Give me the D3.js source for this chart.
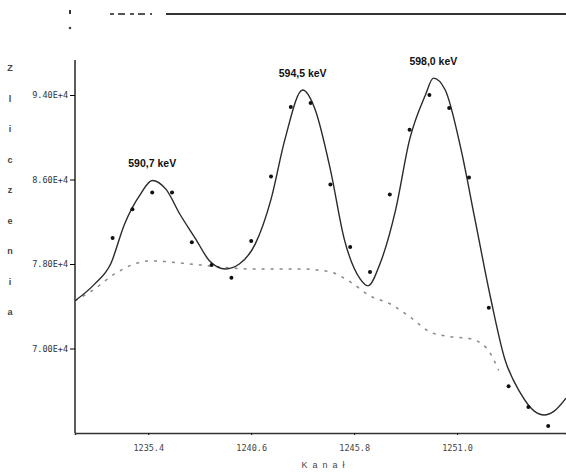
<!DOCTYPE html>
<html>
<head>
<meta charset="utf-8">
<script src="https://cdn.jsdelivr.net/npm/d3@7"></script>
<style>
  body { margin: 0; background: #fff; }
  svg { display: block; font-family: "Liberation Sans", Arial, sans-serif; }
</style>
</head>
<body>
<div id="canvas"></div>
<script>
// measured points (channel, counts)
const dataChannels = [1233.6, 1234.6, 1235.6, 1236.6, 1237.6, 1238.6, 1239.6, 1240.6, 1241.6, 1242.6, 1243.6, 1244.6,
  1245.6, 1246.6, 1247.6, 1248.6, 1249.6, 1250.6, 1251.6, 1252.6, 1253.6, 1254.6, 1255.6]
const dataCounts = [80450, 83180, 84780, 84780, 80070, 77910, 76690, 80170, 86280, 92870, 93250, 85530,
  79600, 77250, 84590, 90700, 94000, 92780, 86190, 73860, 66430, 64450, 62670]

// fitted curve
const fitChannels = [1231.7, 1232.7, 1233.5, 1234.2, 1235.0, 1235.6, 1236.3, 1237.0, 1237.8, 1238.5, 1239.3, 1240.0,
  1240.8, 1241.6, 1242.3, 1243.2, 1243.8, 1244.6, 1245.3, 1246.1, 1246.5, 1247.1, 1247.9, 1248.6, 1249.4, 1249.8,
  1250.4, 1251.2, 1251.9, 1252.7, 1253.4, 1254.2, 1254.9, 1255.4, 1255.9, 1256.5]
const fitCounts = [74520, 76120, 78000, 81770, 84590, 85910, 85060, 82710, 80360, 78290, 77530, 78000,
  79880, 84120, 89770, 94470, 92780, 86940, 80360, 76590, 75930, 78000, 83180, 89770, 94000, 95600,
  94470, 88820, 82240, 74710, 69060, 65770, 64070, 63700, 64070, 65300]

// background
const bgChannels = [1231.7, 1232.7, 1233.7, 1235.5, 1238.0, 1240.6, 1243.1, 1244.6, 1245.6, 1246.6, 1247.6,
  1248.6, 1249.6, 1250.6, 1251.6, 1252.5, 1253.1]
const bgCounts = [74520, 75650, 77060, 78290, 77910, 77530, 77530, 77250, 76310, 74990, 74240,
  73020, 71600, 71130, 70950, 70000, 67930]

// peak labels
const peakLabels = ["590,7 keV", "594,5 keV", "598,0 keV"]
const peakChannels = [1235.6, 1243.2, 1249.8]
const peakCounts = [85910, 94470, 95600]

// ticks
const xTickValues = [1235.4, 1240.6, 1245.8, 1251.0]
const xTickLabels = ["1235.4", "1240.6", "1245.8", "1251.0"]
const yTickValues = [94000, 86000, 78000, 70000]
const yTickLabels = ["9.40E+4", "8.60E+4", "7.80E+4", "7.00E+4"]

const xTitle = "Kanał"
const yTitle = "Zliczenia"

window.onload = function () { setup() }

function setup() {
  const width = 566, height = 474
  const left = 75, right = 566, top = 60, bottom = 433

  const svg = d3.select("#canvas")
    .append("svg")
    .attr("width", width)
    .attr("height", height)

  const x = d3.scaleLinear().domain([1231.7, 1256.5]).range([left, right])
  const y = d3.scaleLinear().domain([62000, 94000]).range([bottom, 95])

  // legend remnant at top
  svg.append("rect").attr("x", 69).attr("y", 10).attr("width", 2).attr("height", 4).attr("fill", "#333")
  svg.append("circle").attr("cx", 70).attr("cy", 28).attr("r", 1.3).attr("fill", "#444")
  svg.append("line")
    .attr("x1", 110).attr("x2", 152).attr("y1", 14).attr("y2", 14)
    .attr("stroke", "#555").attr("stroke-width", 2).attr("stroke-dasharray", "4,4,7,5")
  svg.append("line")
    .attr("x1", 166).attr("x2", 566).attr("y1", 14).attr("y2", 14)
    .attr("stroke", "#333").attr("stroke-width", 2)

  // axes
  const xAxis = d3.axisBottom(x)
    .tickValues(xTickValues)
    .tickFormat((d, i) => xTickLabels[i])
    .tickSize(2)
    .tickPadding(10)
  svg.append("g")
    .attr("transform", `translate(0,${bottom})`)
    .call(xAxis)
    .call(g => g.select(".domain").attr("stroke", "#333").attr("stroke-width", 1.6))
    .call(g => g.selectAll("text").attr("font-size", 8.5).attr("fill", "#444").attr("font-family", "DejaVu Sans Mono, monospace"))

  const yAxis = d3.axisLeft(y)
    .tickValues(yTickValues)
    .tickFormat((d, i) => yTickLabels[i])
    .tickSize(5)
    .tickPadding(2)
  svg.append("g")
    .attr("transform", `translate(${left},0)`)
    .call(yAxis)
    .call(g => g.select(".domain").attr("d", `M0,${top}V${bottom}`).attr("stroke", "#333").attr("stroke-width", 1.6))
    .call(g => g.selectAll("text").attr("font-size", 8.5).attr("fill", "#333").attr("font-family", "DejaVu Sans Mono, monospace"))

  // axis titles
  svg.append("text")
    .attr("x", (left + right) / 2 + 5).attr("y", 468)
    .attr("text-anchor", "middle")
    .attr("font-size", 9).attr("fill", "#444")
    .attr("letter-spacing", 5)
    .text(xTitle)

  svg.selectAll("text.ytitle")
    .data(yTitle.split(""))
    .join("text")
    .attr("class", "ytitle")
    .attr("x", 10).attr("y", (d, i) => 71 + i * 30.5)
    .attr("text-anchor", "middle")
    .attr("font-size", 9).attr("font-weight", "bold").attr("fill", "#444")
    .text(d => d)

  // background (dashed)
  const bgData = bgChannels.map((c, i) => [c, bgCounts[i]])
  svg.append("path")
    .datum(bgData)
    .attr("fill", "none")
    .attr("stroke", "#888")
    .attr("stroke-width", 1.5)
    .attr("stroke-dasharray", "3,6")
    .attr("d", d3.line().x(d => x(d[0])).y(d => y(d[1])).curve(d3.curveMonotoneX))

  // fit (solid)
  const fitData = fitChannels.map((c, i) => [c, fitCounts[i]])
  svg.append("path")
    .datum(fitData)
    .attr("fill", "none")
    .attr("stroke", "#2a2a2a")
    .attr("stroke-width", 1.4)
    .attr("d", d3.line().x(d => x(d[0])).y(d => y(d[1])).curve(d3.curveMonotoneX))

  // measured points
  const pts = dataChannels.map((c, i) => [c, dataCounts[i]])
  svg.selectAll("circle.pt")
    .data(pts)
    .join("circle")
    .attr("class", "pt")
    .attr("cx", d => x(d[0]))
    .attr("cy", d => y(d[1]))
    .attr("r", 2)
    .attr("fill", "#111")

  // peak labels
  const peaks = peakLabels.map((t, i) => ({ t: t, c: peakChannels[i], v: peakCounts[i] }))
  svg.selectAll("text.peak")
    .data(peaks)
    .join("text")
    .attr("class", "peak")
    .attr("x", d => x(d.c))
    .attr("y", d => y(d.v) - 13)
    .attr("text-anchor", "middle")
    .attr("font-size", 10.5)
    .attr("font-weight", "bold")
    .attr("fill", "#111")
    .text(d => d.t)
}
</script>
</body>
</html>
